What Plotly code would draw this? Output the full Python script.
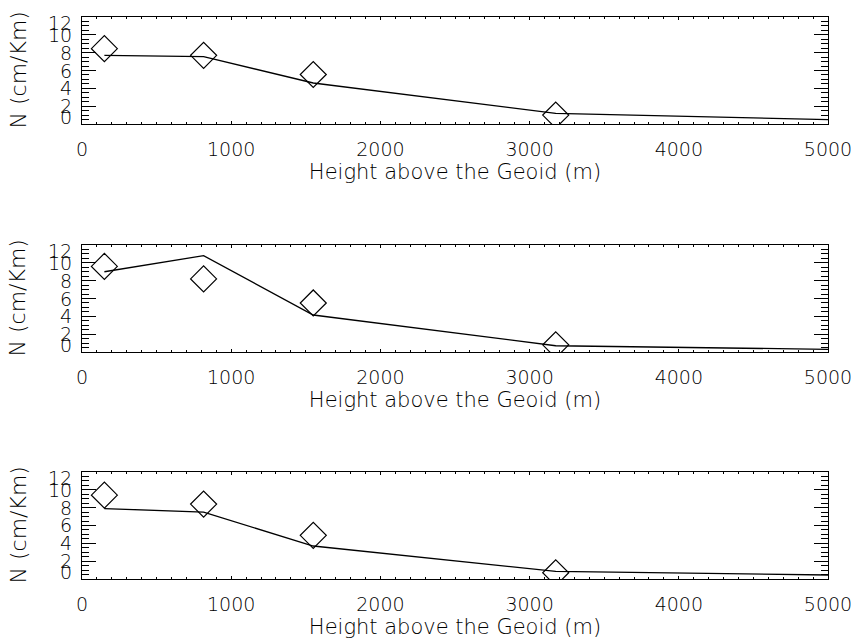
import plotly.graph_objects as go

# ---- data ----
heights = [150, 815, 1550, 3175, 5000]          # line (model) heights, m
obs_heights = [150, 815, 1550, 3175]            # diamond (observed) heights, m
obs1 = [8.45, 7.7, 5.55, 1.0]
model1 = [7.7, 7.55, 4.6, 1.2, 0.5]
obs2 = [9.6, 8.2, 5.5, 0.8]
model2 = [9.0, 10.8, 4.15, 0.7, 0.3]
obs3 = [9.4, 8.4, 4.9, 0.7]
model3 = [7.9, 7.5, 3.7, 0.85, 0.45]
x_tickvals = [0, 1000, 2000, 3000, 4000, 5000]
x_ticktext = ["0", "1000", "2000", "3000", "4000", "5000"]
y_tickvals = [0, 2, 4, 6, 8, 10, 12]
y_ticktext = ["0", "2", "4", "6", "8", "10", "12"]
x_title = "Height above the Geoid (m)"
y_title = "N (cm/Km)"

FONT = "DejaVu Sans"
FS = 19
FT = 21
FY = 22
WT = 300
panels = [(obs1, model1), (obs2, model2), (obs3, model3)]
domains = [[0.8096, 1.0], [0.4039, 0.5943], [0.0, 0.1904]]

fig = go.Figure()
annotations = []
for i, (obs, model) in enumerate(panels):
    n = "" if i == 0 else str(i + 1)
    xa, ya = "x" + n, "y" + n
    fig.add_trace(go.Scatter(x=heights, y=model, mode="lines",
                             line=dict(color="black", width=1.3),
                             xaxis=xa, yaxis=ya, showlegend=False))
    fig.add_trace(go.Scatter(x=obs_heights, y=obs, mode="markers",
                             marker=dict(symbol="diamond-open", size=20,
                                         color="black", line=dict(width=1.2, color="black")),
                             xaxis=xa, yaxis=ya, showlegend=False))
    axis_common = dict(showline=True, linecolor="black", linewidth=1.3,
                       mirror="allticks", ticks="inside", tickcolor="black",
                       showgrid=False, zeroline=False, automargin=False)
    fig.layout["xaxis" + n] = dict(
        axis_common, domain=[0, 1], anchor=ya, range=[0, 5000],
        tickvals=x_tickvals, ticktext=x_ticktext, ticklen=3, tickwidth=1,
        minor=dict(dtick=100, ticklen=2, tickcolor="black", ticks="inside"),
        tickfont=dict(family=FONT, size=FS, color="black", weight=WT),
        ticklabelstandoff=8,
        title=dict(text=x_title, font=dict(family=FONT, size=FT, color="black", weight=WT),
                   standoff=2),
    )
    fig.layout["yaxis" + n] = dict(
        axis_common, domain=domains[i], anchor=xa, range=[0, 12],
        tickvals=y_tickvals, ticklen=14, tickwidth=1,
        minor=dict(dtick=0.5, ticklen=7, tickcolor="black", ticks="inside"),
        showticklabels=False,
    )
    for v, t in zip(y_tickvals, y_ticktext):
        shift = -6 if v == max(y_tickvals) else (7 if v == min(y_tickvals) else 0)
        annotations.append(dict(x=0, xref="paper", y=v, yref=ya, text=t,
                                showarrow=False, xanchor="right", yanchor="middle",
                                xshift=-8, yshift=shift,
                                font=dict(family=FONT, size=FS, color="black", weight=WT)))
    annotations.append(dict(x=0, xref="paper", y=6, yref=ya, text=y_title,
                            showarrow=False, textangle=-90, xanchor="center",
                            yanchor="middle", xshift=-64,
                            font=dict(family=FONT, size=FY, color="black", weight=WT)))

fig.update_layout(
    width=857, height=641,
    margin=dict(l=82, r=29, t=17, b=62),
    paper_bgcolor="white", plot_bgcolor="white",
    annotations=annotations,
)
fig.write_html("out.html")
